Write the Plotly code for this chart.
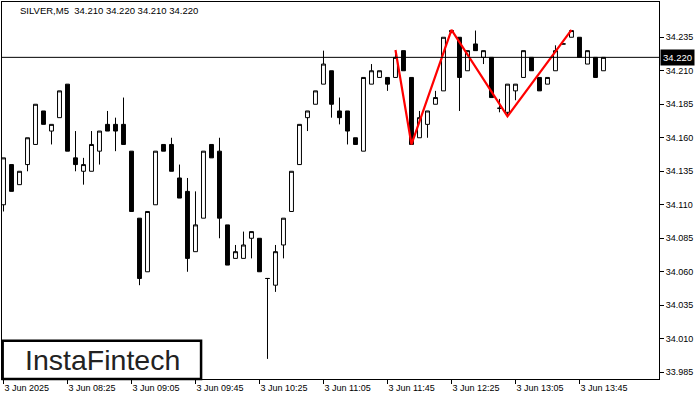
import plotly.graph_objects as go

# ---- data (SILVER, M5, 3 Jun 2025 from 07:45) ----
bar_index = list(range(76))
opens = [34.110, 34.140, 34.125, 34.140, 34.155, 34.180, 34.165, 34.175, 34.200, 34.145,
         34.135, 34.135, 34.150, 34.170, 34.170, 34.170, 34.150, 34.100, 34.060, 34.110,
         34.155, 34.155, 34.130, 34.120, 34.075, 34.100, 34.155, 34.150, 34.095, 34.070,
         34.070, 34.085, 34.085, 34.055, 34.050, 34.080, 34.105, 34.140, 34.175, 34.185,
         34.200, 34.210, 34.180, 34.180, 34.160, 34.150, 34.200, 34.205, 34.205, 34.205,
         34.225, 34.205, 34.160, 34.170, 34.185, 34.195, 34.239, 34.235, 34.210, 34.230,
         34.220, 34.220, 34.182, 34.179, 34.195, 34.205, 34.220, 34.205, 34.200, 34.210,
         34.230, 34.235, 34.235, 34.215, 34.220, 34.210]
highs = [34.145, 34.140, 34.135, 34.160, 34.185, 34.180, 34.170, 34.195, 34.200, 34.165,
         34.145, 34.165, 34.165, 34.180, 34.175, 34.190, 34.150, 34.100, 34.105, 34.150,
         34.155, 34.160, 34.140, 34.130, 34.120, 34.150, 34.155, 34.160, 34.095, 34.080,
         34.090, 34.090, 34.085, 34.055, 34.080, 34.100, 34.135, 34.170, 34.180, 34.195,
         34.225, 34.210, 34.190, 34.180, 34.160, 34.205, 34.215, 34.210, 34.205, 34.225,
         34.225, 34.205, 34.180, 34.180, 34.195, 34.235, 34.240, 34.235, 34.225, 34.240,
         34.225, 34.220, 34.189, 34.200, 34.200, 34.225, 34.220, 34.205, 34.205, 34.229,
         34.230, 34.240, 34.235, 34.225, 34.220, 34.220]
lows = [34.105, 34.120, 34.125, 34.135, 34.155, 34.170, 34.155, 34.175, 34.150, 34.135,
        34.125, 34.135, 34.140, 34.165, 34.150, 34.155, 34.105, 34.050, 34.060, 34.110,
        34.150, 34.135, 34.115, 34.060, 34.075, 34.100, 34.145, 34.085, 34.065, 34.070,
        34.070, 34.070, 34.060, 33.995, 34.045, 34.070, 34.105, 34.140, 34.165, 34.185,
        34.200, 34.175, 34.170, 34.155, 34.155, 34.150, 34.200, 34.205, 34.195, 34.205,
        34.210, 34.155, 34.160, 34.160, 34.185, 34.195, 34.238, 34.180, 34.210, 34.225,
        34.215, 34.190, 34.179, 34.176, 34.188, 34.205, 34.210, 34.195, 34.200, 34.210,
        34.230, 34.235, 34.220, 34.215, 34.205, 34.210]
closes = [34.145, 34.120, 34.135, 34.160, 34.185, 34.170, 34.170, 34.195, 34.150, 34.140,
          34.140, 34.155, 34.165, 34.165, 34.165, 34.155, 34.105, 34.055, 34.105, 34.150,
          34.150, 34.135, 34.115, 34.070, 34.095, 34.150, 34.145, 34.100, 34.065, 34.075,
          34.080, 34.090, 34.060, 34.055, 34.075, 34.100, 34.135, 34.170, 34.180, 34.195,
          34.215, 34.185, 34.175, 34.165, 34.155, 34.205, 34.210, 34.210, 34.200, 34.220,
          34.210, 34.155, 34.175, 34.180, 34.190, 34.235, 34.240, 34.205, 34.225, 34.225,
          34.225, 34.190, 34.182, 34.200, 34.200, 34.225, 34.210, 34.195, 34.205, 34.225,
          34.230, 34.240, 34.220, 34.225, 34.205, 34.220]

pattern_index = [49, 51, 56, 63, 71]
pattern_price = [34.2255, 34.155, 34.2405, 34.176, 34.2405]

tick_index = [0, 8, 16, 24, 32, 40, 48, 56, 64, 72]
tick_labels = ["3 Jun 2025", "3 Jun 08:25", "3 Jun 09:05", "3 Jun 09:45", "3 Jun 10:25",
               "3 Jun 11:05", "3 Jun 11:45", "3 Jun 12:25", "3 Jun 13:05", "3 Jun 13:45"]
price_ticks = [33.985, 34.010, 34.035, 34.060, 34.085, 34.110, 34.135, 34.160, 34.185, 34.210, 34.235]
current_price = 34.220
title_text = "SILVER,M5  34.210 34.220 34.210 34.220"

FONT = "Liberation Sans, Arial, sans-serif"

fig = go.Figure()
fig.add_trace(go.Candlestick(
    x=bar_index, open=opens, high=highs, low=lows, close=closes,
    increasing=dict(line=dict(color="black", width=1), fillcolor="white"),
    decreasing=dict(line=dict(color="black", width=1), fillcolor="black"),
    whiskerwidth=0, hoverinfo="skip", showlegend=False,
))
fig.add_trace(go.Scatter(
    x=pattern_index, y=pattern_price, mode="lines",
    line=dict(color="#ff0000", width=2.2), hoverinfo="skip", showlegend=False,
))

fig.add_shape(type="line", xref="paper", x0=0, x1=1, yref="y",
              y0=current_price, y1=current_price, line=dict(color="black", width=1))

fig.add_annotation(xref="paper", x=1, yref="y", y=current_price, xanchor="left", yanchor="middle",
                   xshift=1, text=f"{current_price:.3f}", showarrow=False,
                   font=dict(family=FONT, size=9.5, color="white"), bgcolor="black", borderpad=2)

fig.add_annotation(xref="paper", x=0.0243, yref="paper", y=0.977, xanchor="left", yanchor="middle",
                   text=title_text, showarrow=False, font=dict(family=FONT, size=9.5, color="black"))

# logo
fig.add_shape(type="rect", xref="paper", yref="paper", x0=0.001, x1=0.303, y0=0.0, y1=0.1016,
              line=dict(color="black", width=2.5), fillcolor="white")
fig.add_annotation(xref="paper", yref="paper", x=0.153, y=0.051, xanchor="center", yanchor="middle",
                   text="InstaFintech", showarrow=False,
                   font=dict(family="Liberation Sans, Arial, sans-serif", size=28.5, color="#222222"))

fig.update_layout(
    width=700, height=400, margin=dict(l=2, r=41, t=2, b=21),
    paper_bgcolor="white", plot_bgcolor="white",
    xaxis=dict(range=[-0.1875, 81.94], rangeslider=dict(visible=False), showgrid=False, zeroline=False,
               tickmode="array", tickvals=tick_index, ticktext=tick_labels,
               ticks="outside", ticklen=4, tickcolor="black", ticklabelposition="outside right",
               tickfont=dict(family=FONT, size=9, color="black"),
               showline=True, mirror=True, linecolor="black", linewidth=1),
    yaxis=dict(range=[33.980, 34.2613], side="right", showgrid=False, zeroline=False,
               tickmode="array", tickvals=price_ticks, ticktext=[f"{v:.3f}" for v in price_ticks],
               ticks="outside", ticklen=4, tickcolor="black",
               tickfont=dict(family=FONT, size=9, color="black"),
               showline=True, mirror=True, linecolor="black", linewidth=1),
)

fig.write_html("out.html", config={"displayModeBar": False},
               post_script="document.body.style.margin='0';document.body.style.overflow='hidden';")
